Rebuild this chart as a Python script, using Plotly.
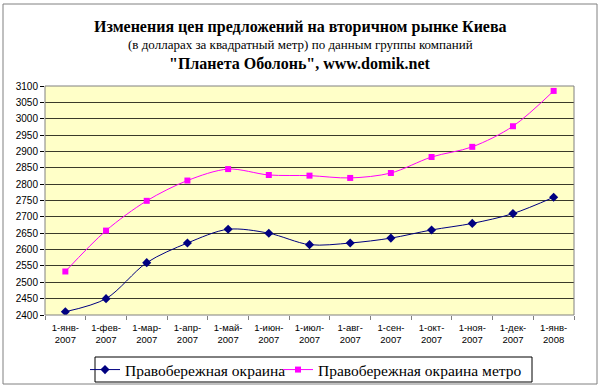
import plotly.graph_objects as go

categories = ["1-янв-<br>2007", "1-фев-<br>2007", "1-мар-<br>2007", "1-апр-<br>2007",
              "1-май-<br>2007", "1-июн-<br>2007", "1-июл-<br>2007", "1-авг-<br>2007",
              "1-сен-<br>2007", "1-окт-<br>2007", "1-ноя-<br>2007", "1-дек-<br>2007",
              "1-янв-<br>2008"]
okraina = [2410, 2450, 2560, 2620, 2662, 2650, 2615, 2620, 2635, 2660, 2680, 2710, 2760]
okraina_metro = [2533, 2658, 2749, 2811, 2846, 2828, 2826, 2819, 2834, 2883, 2914, 2977, 3085]
y_ticks = list(range(2400, 3101, 50))

fig = go.Figure()
fig.add_trace(go.Scatter(
    x=categories, y=okraina, name="Правобережная окраина",
    mode="lines+markers", legend="legend",
    line=dict(color="#000080", width=1, shape="spline", smoothing=0.9),
    marker=dict(symbol="diamond", size=7, color="#000080"),
))
fig.add_trace(go.Scatter(
    x=categories, y=okraina_metro, name="Правобережная окраина метро",
    mode="lines+markers", legend="legend2",
    line=dict(color="#FF00FF", width=1, shape="spline", smoothing=0.9),
    marker=dict(symbol="square", size=6, color="#FF00FF"),
))

L, R, T, B = 45, 574, 86, 315
W, H = 600, 389
pw, ph = R - L, B - T

def px(x):
    return (x - L) / pw

def py(y):
    return (B - y) / ph

serif = "'Liberation Serif', 'Times New Roman', serif"
sans = "'Liberation Sans', Arial, sans-serif"

annotations = [
    dict(text="<b>Изменения цен предложений на вторичном рынке Киева</b>", x=px(300), y=py(27),
         font=dict(family=serif, size=16, color="black")),
    dict(text="(в долларах за квадратный метр) по данным группы компаний", x=px(300), y=py(44),
         font=dict(family=serif, size=13, color="black")),
    dict(text="<b>\"Планета Оболонь\", www.domik.net</b>", x=px(300), y=py(63),
         font=dict(family=serif, size=16, color="black")),
]
for a in annotations:
    a.update(xref="paper", yref="paper", xanchor="center", yanchor="middle", showarrow=False)

shapes = [
    dict(type="rect", xref="paper", yref="paper", x0=0, x1=1, y0=0, y1=1,
         line=dict(color="#808080", width=1), fillcolor="rgba(0,0,0,0)", layer="above"),
    dict(type="rect", xref="paper", yref="paper", x0=px(3), x1=px(597), y0=py(384), y1=py(4),
         line=dict(color="#808080", width=1), fillcolor="rgba(0,0,0,0)"),
    dict(type="rect", xref="paper", yref="paper", x0=px(95), x1=px(532), y0=py(382), y1=py(357),
         line=dict(color="black", width=1), fillcolor="rgba(0,0,0,0)"),
]

legend_common = dict(xanchor="left", yanchor="middle", y=py(370),
                     borderwidth=0, bgcolor="rgba(0,0,0,0)",
                     font=dict(family=serif, size=15.5, color="black"))

fig.update_layout(
    width=W, height=H,
    margin=dict(l=L, r=W - R, t=T, b=H - B, autoexpand=False),
    paper_bgcolor="white", plot_bgcolor="#FFFFC8",
    showlegend=True,
    legend=dict(x=px(85), **legend_common),
    legend2=dict(x=px(278), **legend_common),
    annotations=annotations,
    shapes=shapes,
)
fig.update_xaxes(
    type="category", tickson="boundaries", ticks="outside", ticklen=4, tickcolor="#808080",
    showgrid=False, showline=False, range=[-0.5, len(categories) - 0.5],
    tickfont=dict(family=sans, size=9.5, color="black"), tickangle=0, ticklabelstandoff=5,
)
fig.update_yaxes(
    range=[2400, 3100], tickvals=y_ticks, ticks="outside", ticklen=4, tickcolor="black",
    showgrid=True, gridcolor="#3a3a2a", gridwidth=1, zeroline=False, showline=False,
    tickfont=dict(family=sans, size=10, color="black"),
)

fig.write_html("out.html", config={"displayModeBar": False},
               post_script="document.body.style.margin='0';")
